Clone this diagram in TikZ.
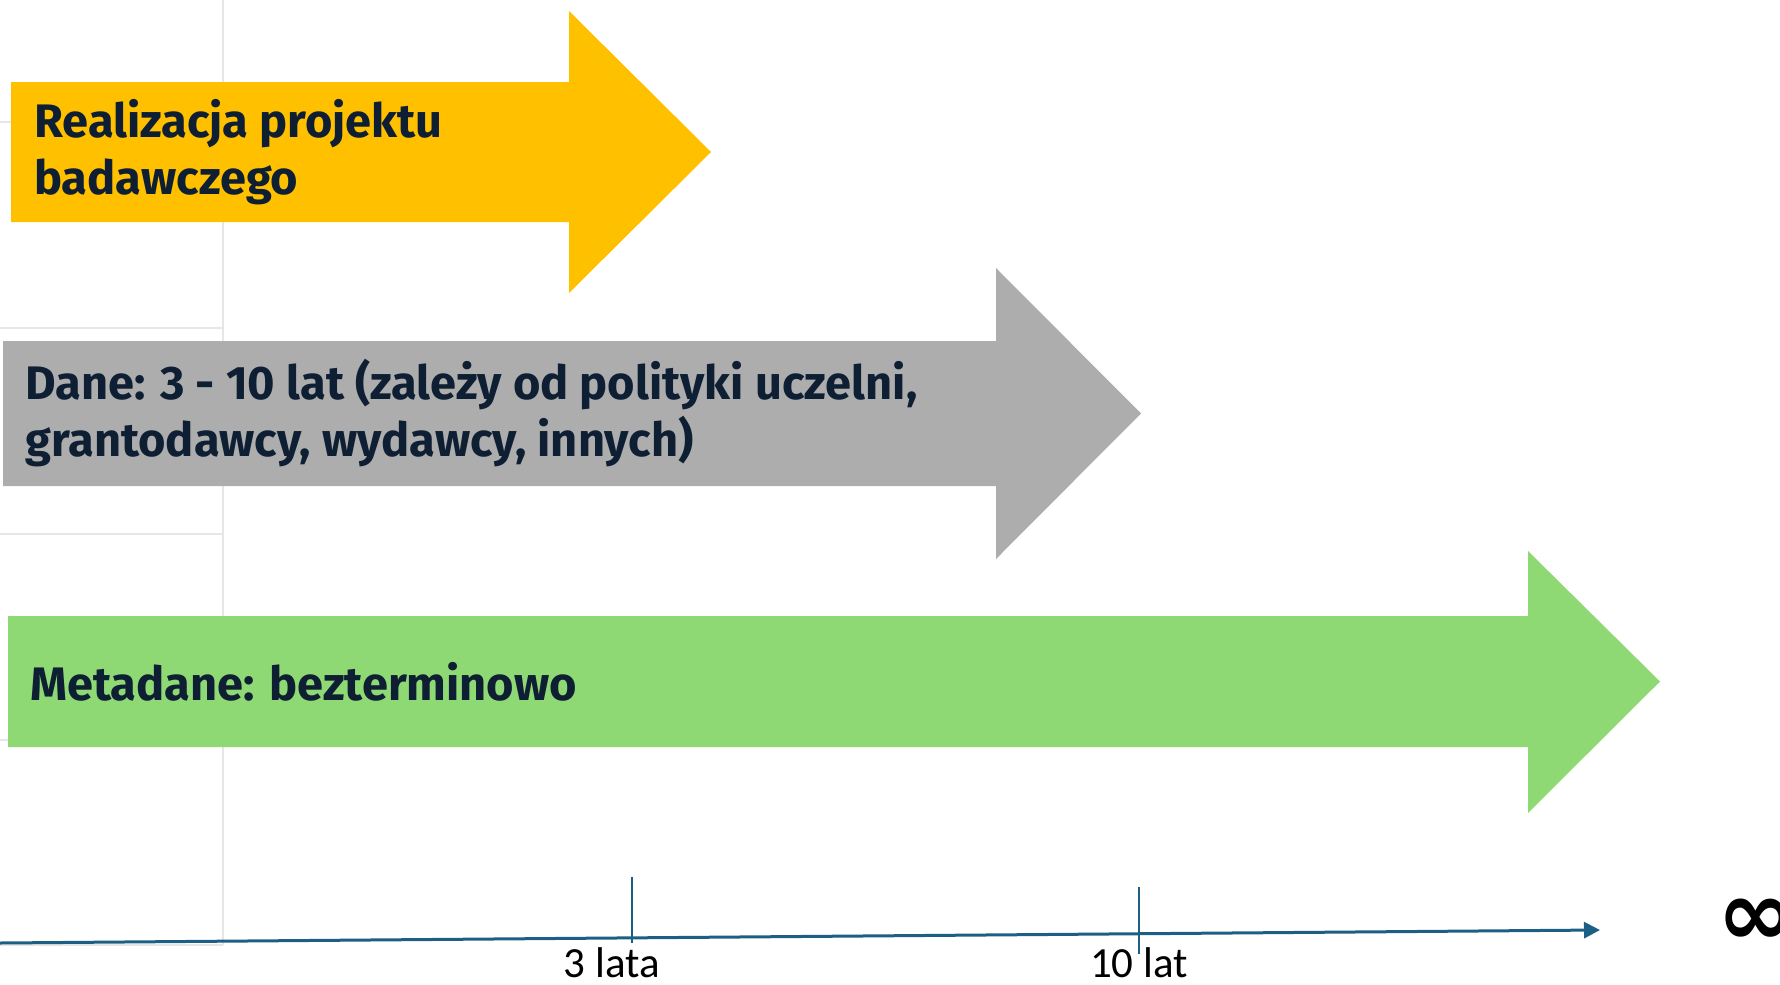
\documentclass[tikz,border=0pt]{standalone}
\usepackage{fontspec}
\setmainfont{Fira Sans}
\newfontfamily\axisfont{Carlito}
\newfontfamily\symfont{DejaVu Sans}
\usetikzlibrary{arrows.meta}
\definecolor{yellowfill}{HTML}{FFC000}
\definecolor{greyfill}{HTML}{ADADAD}
\definecolor{greenfill}{HTML}{8FD975}
\definecolor{txtcol}{HTML}{0F1F33}
\definecolor{axcol}{HTML}{1D5F84}
\definecolor{gridcol}{HTML}{E6E6E6}
\tikzset{
  gridline/.style={draw=gridcol, line width=1.5pt},
  bartext/.style={anchor=west, inner sep=0pt, align=left, text=txtcol,
    font=\fontsize{47}{57}\selectfont\bfseries},
  axline/.style={draw=axcol, line width=3pt},
  tickline/.style={draw=axcol, line width=2pt},
  axlabel/.style={inner sep=0pt, anchor=base, text depth=0pt, text=black, font=\axisfont\fontsize{43}{43}\selectfont}
}
\begin{document}
\begin{tikzpicture}[x=1pt,y=-1pt]
\useasboundingbox (0,0) rectangle (1780,985);
% background grid
\draw[gridline] (223,0) -- (223,945);
\foreach \yy in {122,328,534,740,945} \draw[gridline] (0,\yy) -- (223,\yy);
% yellow arrow
\fill[yellowfill] (11,82) -- (569,82) -- (569,11) -- (711,152) -- (569,293) -- (569,222) -- (11,222) -- cycle;
\node[bartext] (t1) at (34,152) {Realizacja projektu\\badawczego};
% grey arrow
\fill[greyfill] (3,341) -- (996,341) -- (996,268) -- (1141,413.5) -- (996,559) -- (996,486) -- (3,486) -- cycle;
\node[bartext] (t2) at (25,413.5) {Dane: 3 - 10 lat (zależy od polityki uczelni,\\grantodawcy, wydawcy, innych)};
% green arrow
\fill[greenfill] (8,616) -- (1528,616) -- (1528,551) -- (1660,681.5) -- (1528,813) -- (1528,747) -- (8,747) -- cycle;
\node[bartext] (t3) at (30,681.5) {Metadane: bezterminowo};
% axis
\coordinate (axL) at (0,943);
\coordinate (axR) at (1600,930);
\draw[axline, -{Triangle[length=16pt,width=16pt]}] (axL) -- (axR);
\coordinate (k1t) at (632,877);
\coordinate (k1b) at (632,943);
\coordinate (k2t) at (1139,887);
\coordinate (k2b) at (1139,954);
\draw[tickline] (k1t) -- (k1b);
\draw[tickline] (k2t) -- (k2b);
\node[axlabel] (l1) at (612,977) {3 lata};
\node[axlabel] (l2) at (1139,977) {10 lat};
\node[inner sep=0pt, anchor=west, font=\symfont\bfseries\fontsize{92}{92}\selectfont] (inf) at (1717,922) {∞};
\end{tikzpicture}
\end{document}
